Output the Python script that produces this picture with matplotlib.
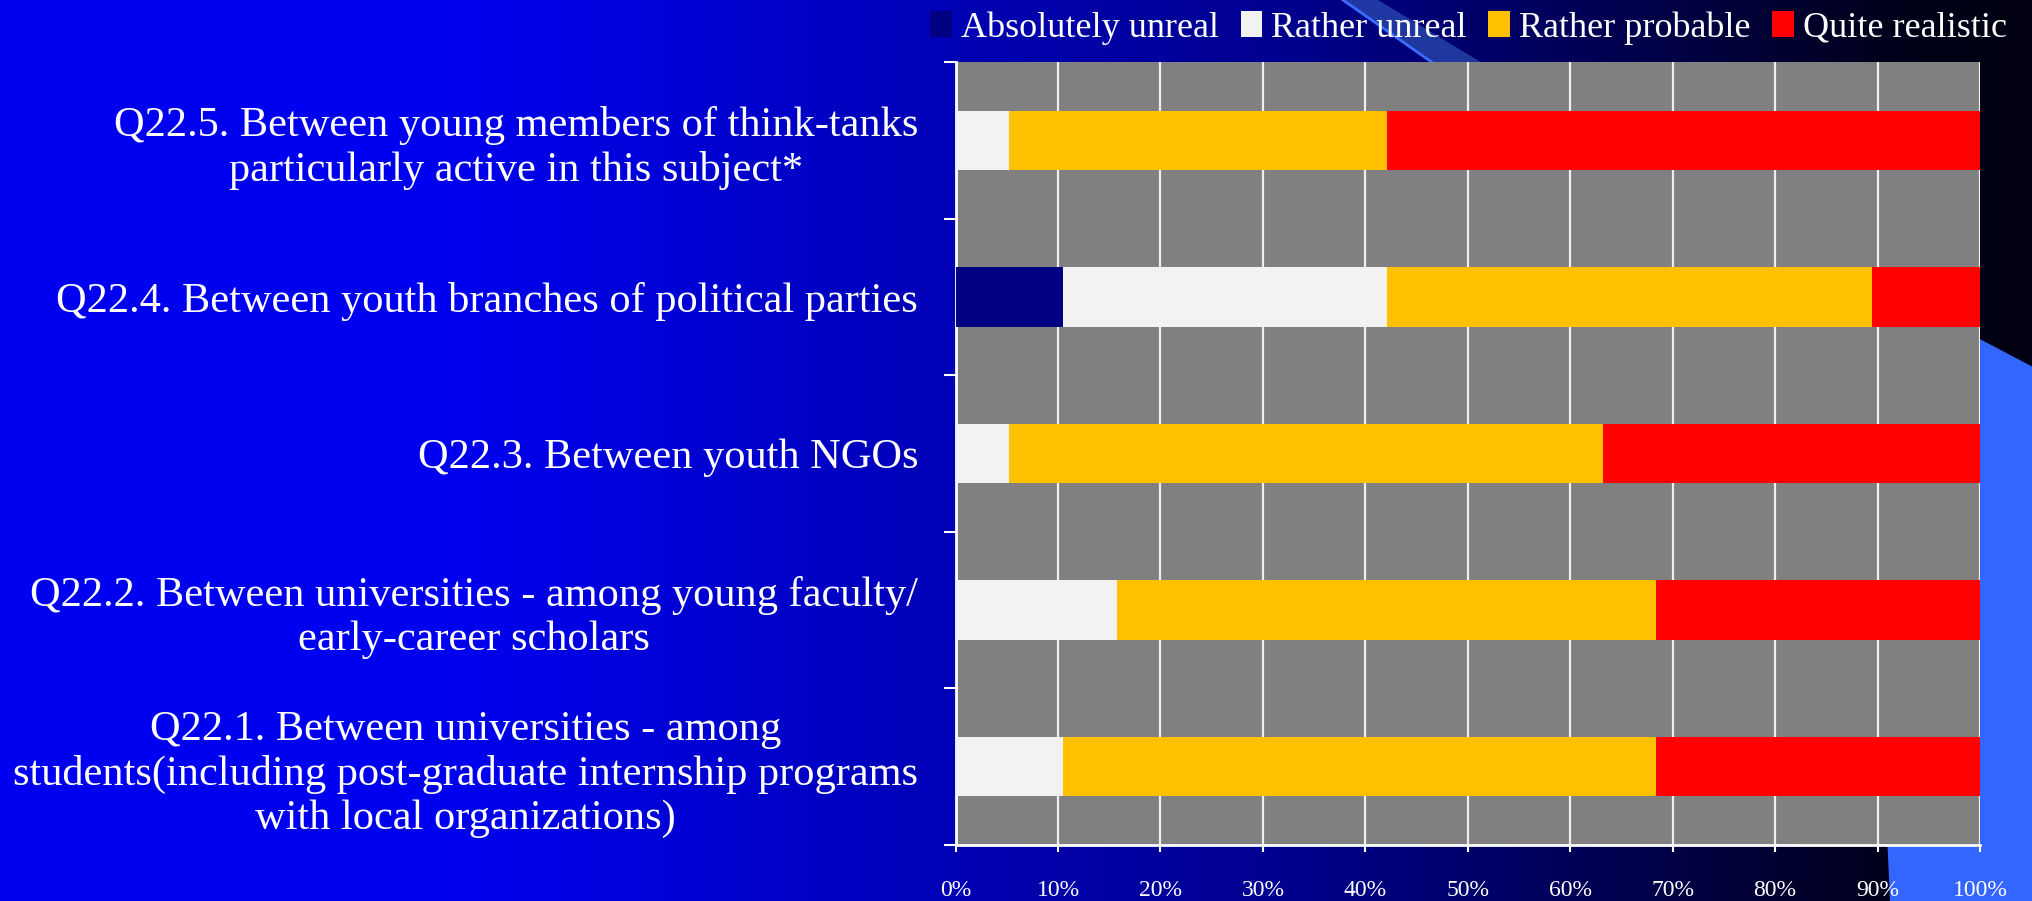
import matplotlib.pyplot as plt
import numpy as np
from matplotlib.patches import Polygon, Patch

plt.rcParams['font.family'] = ['Liberation Serif', 'DejaVu Serif']

# data (percent of respondents), bottom to top
questions = [
    "Q22.1. Between universities - among\nstudents(including post-graduate internship programs\nwith local organizations)",
    "Q22.2. Between universities - among young faculty/\nearly-career scholars",
    "Q22.3. Between youth NGOs",
    "Q22.4. Between youth branches of political parties",
    "Q22.5. Between young members of think-tanks\nparticularly active in this subject*",
]
absolutely_unreal = [0.0, 0.0, 0.0, 10.53, 0.0]
rather_unreal = [10.53, 15.79, 5.26, 31.58, 5.26]
rather_probable = [57.89, 52.63, 57.89, 47.37, 36.84]
quite_realistic = [31.58, 31.58, 36.84, 10.53, 57.89]
series_names = ["Absolutely unreal", "Rather unreal", "Rather probable", "Quite realistic"]
colors = ["#000080", "#F2F2F2", "#FFC000", "#FF0000"]
xticks = np.arange(0, 101, 10)

W, H = 2033, 901
fig = plt.figure(figsize=(W / 100, H / 100), dpi=100)

# slide background
bg = fig.add_axes([0, 0, 1, 1])
xs = np.arange(W)
blue = np.interp(xs, [0, 450, 1300, 1900, W], [242, 240, 140, 25, 18]) / 255
grad = np.zeros((2, W, 3))
grad[:, :, 2] = blue
bg.imshow(grad, extent=[0, W, H, 0], aspect='auto')
bg.add_patch(Polygon([(1862, 277), (W, 367), (W, H), (1890, H)], closed=True,
                     facecolor='#3366FF', edgecolor='none'))
bg.add_patch(Polygon([(1343, 0), (1378, 0), (1560, 110), (1500, 110)], closed=True,
                     facecolor='#2A4BB0', edgecolor='none', alpha=0.75))
bg.plot([1343, 1500], [0, 110], color='#3A6CFF', lw=2)
bg.set_xlim(0, W)
bg.set_ylim(H, 0)
bg.axis('off')

ax = fig.add_axes([955.6 / W, 1 - 845 / H, (1980 - 955.6) / W, (845 - 62) / H])
ax.set_facecolor('#808080')
y = np.arange(len(questions))
left = np.zeros(len(questions))
for vals, name, c in zip([absolutely_unreal, rather_unreal, rather_probable, quite_realistic],
                         series_names, colors):
    ax.barh(y, vals, left=left, height=0.38, color=c, label=name, zorder=3)
    left += np.array(vals)

ax.set_xlim(0, 100)
ax.set_ylim(-0.5, 4.5)
ax.set_xticks(xticks)
ax.set_xticklabels([f"{v}%" for v in xticks], fontsize=17, color='white')
ax.grid(axis='x', color='#EEEEEE', lw=1.6, zorder=1)
ax.set_yticks(y)
ax.set_yticklabels(questions, fontsize=30.5, color='white', multialignment='center',
                   linespacing=1.2)
ax.set_yticks(np.arange(-0.5, 5, 1), minor=True)
ax.tick_params(axis='y', which='major', length=0, pad=27)
ax.tick_params(axis='y', which='minor', length=9, width=1.5, color='white')
ax.tick_params(axis='x', length=5, width=1.5, color='white', pad=20)
for s in ['top', 'right']:
    ax.spines[s].set_visible(False)
for s in ['left', 'bottom']:
    ax.spines[s].set_color('white')
    ax.spines[s].set_linewidth(2)

handles = [Patch(facecolor=c, edgecolor='none') for c in colors]
fig.legend(handles, series_names, loc='center right', bbox_to_anchor=(2025 / W, 1 - 28 / H),
           ncol=4, frameon=False, fontsize=26, labelcolor='white', handlelength=0.6,
           handleheight=0.7, handletextpad=0.25, columnspacing=0.6, borderpad=0)

fig.savefig('out.png', dpi=100)
